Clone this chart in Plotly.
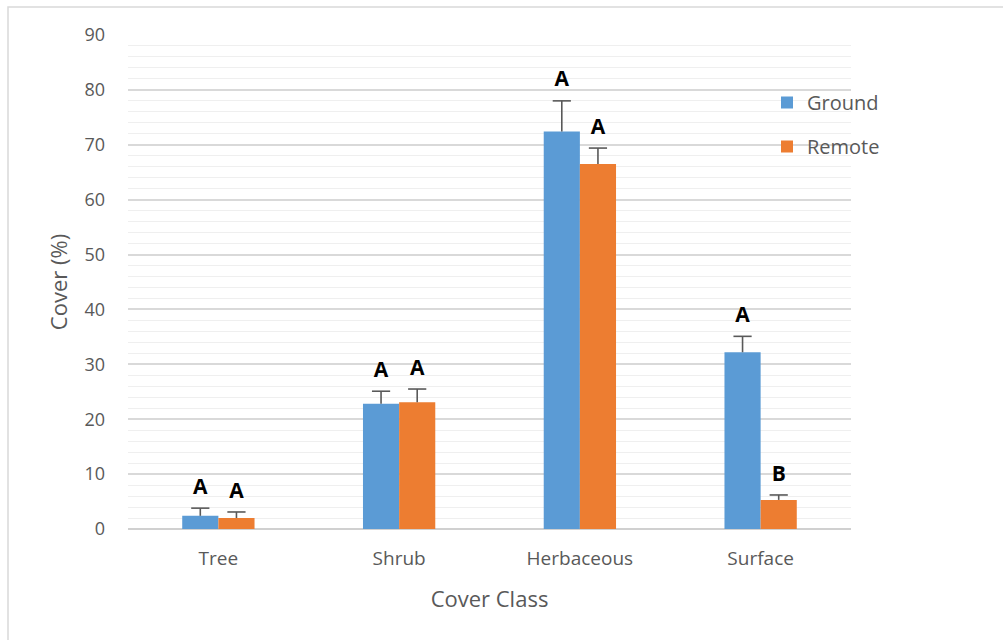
import plotly.graph_objects as go

# Mean cover by class, with standard errors and significance letters
categories = ["Tree", "Shrub", "Herbaceous", "Surface"]
ground = [2.4, 22.8, 72.4, 32.2]
ground_err = [1.4, 2.3, 5.6, 2.9]
remote = [2.0, 23.1, 66.5, 5.3]
remote_err = [1.1, 2.4, 2.9, 0.9]
ground_letters = ["A", "A", "A", "A"]
remote_letters = ["A", "A", "A", "B"]

W, H = 1003, 640
ML, MR, MT, MB = 128, 152, 35, 111

BLUE = "#5B9BD5"
ORANGE = "#ED7D31"
TXT = "#595959"
ERR = "#595959"
FONT = "Open Sans"

positions = list(range(len(categories)))
BAR_W = 0.2  # with bargap 0.6 each bar of a pair spans 0.2 of a category slot

fig = go.Figure()
series = [
    ("Ground", ground, ground_err, ground_letters, BLUE, -BAR_W / 2),
    ("Remote", remote, remote_err, remote_letters, ORANGE, BAR_W / 2),
]
for name, vals, errs, letters, color, off in series:
    fig.add_trace(go.Bar(
        name=name, x=positions, y=vals, legendgroup=name,
        marker=dict(color=color, line=dict(width=0)),
    ))

# Plus-only error bars: stem from the bar top, cap at mean + error
for name, vals, errs, letters, color, off in series:
    xs = [p + off for p in positions]
    tops = [v + e for v, e in zip(vals, errs)]
    fig.add_trace(go.Scatter(
        x=xs, y=tops, mode="markers+text", showlegend=False, hoverinfo="skip",
        marker=dict(symbol="line-ew", size=13, line=dict(width=1.6, color=ERR)),
        error_y=dict(type="data", symmetric=False, array=[0] * len(errs),
                     arrayminus=errs, color=ERR, thickness=1.6, width=0),
        text=letters, textposition="top center",
        textfont=dict(family=FONT, size=21, color="#000000", weight="bold"),
    ))

pw = W - ML - MR
ph = H - MT - MB
# outer chart frame (runs past the right and bottom edges of the page)
frame = dict(
    type="rect", xref="paper", yref="paper",
    x0=(8 - ML) / pw, x1=(W + 5 - ML) / pw,
    y0=-(MB + 5) / ph, y1=1 + (MT - 7) / ph,
    line=dict(color="#D9D9D9", width=1.5), fillcolor="rgba(0,0,0,0)", layer="below",
)

fig.update_layout(
    width=W, height=H,
    margin=dict(l=ML, r=MR, t=MT, b=MB, pad=0),
    paper_bgcolor="white", plot_bgcolor="white",
    barmode="group", bargap=0.6, bargroupgap=0,
    font=dict(family=FONT, color=TXT, size=16),
    shapes=[frame],
    legend=dict(x=(767 - ML) / pw, y=1 - (83 - MT) / ph, xanchor="left", yanchor="top",
                font=dict(size=20, color=TXT), traceorder="grouped",
                tracegroupgap=15, bgcolor="rgba(0,0,0,0)"),
    xaxis=dict(
        range=[-0.5, len(categories) - 0.5],
        tickmode="array", tickvals=positions, ticktext=categories,
        showgrid=False, showline=False, ticks="", zeroline=False,
        tickfont=dict(size=19, color=TXT),
        title=dict(text="Cover Class", font=dict(size=22, color=TXT), standoff=21),
        ticklabelstandoff=16,
    ),
    yaxis=dict(
        range=[0, 90], dtick=10, showline=False, ticks="",
        gridcolor="#D9D9D9", gridwidth=1.5,
        zeroline=True, zerolinecolor="#D0D0D0", zerolinewidth=1.5,
        minor=dict(dtick=2, showgrid=True, gridcolor="#EFEFEF", gridwidth=1),
        tickfont=dict(size=18, color=TXT), ticklabelstandoff=22,
        title=dict(text="Cover (%)", font=dict(size=22, color=TXT), standoff=10),
    ),
)

fig.write_html("out.html")
